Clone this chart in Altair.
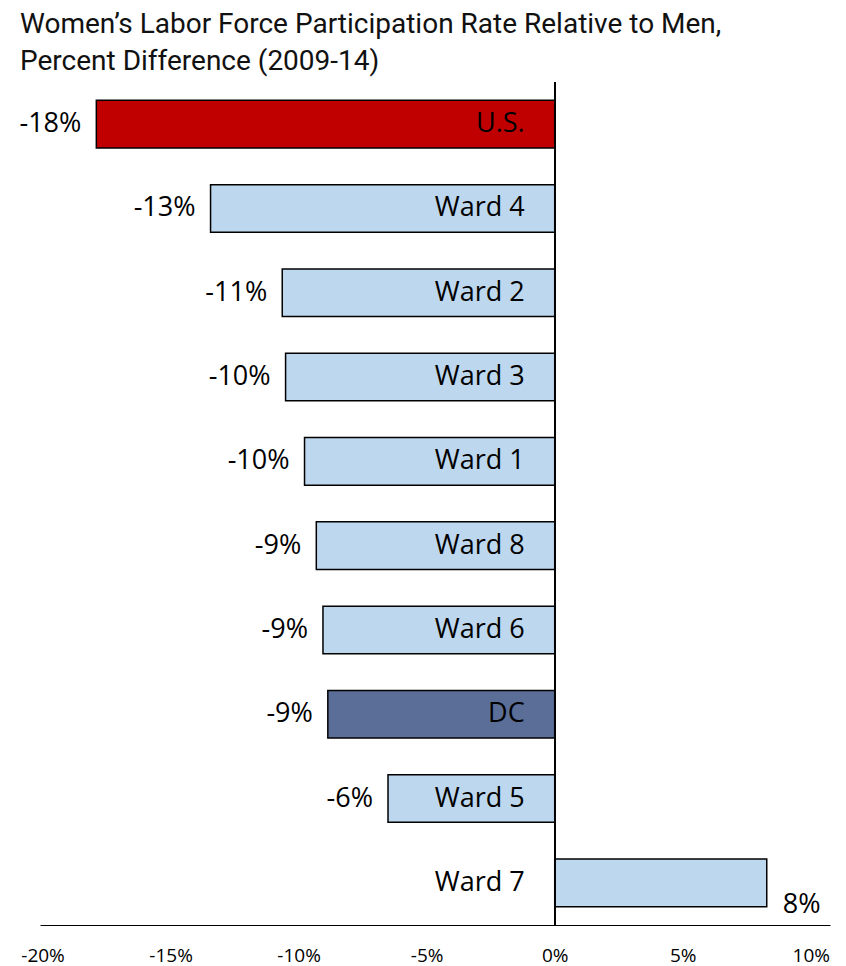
import altair as alt
import pandas as pd

categories = ["U.S.", "Ward 4", "Ward 2", "Ward 3", "Ward 1", "Ward 8", "Ward 6", "DC", "Ward 5", "Ward 7"]
values = [-17.9, -13.44, -10.64, -10.51, -9.77, -9.31, -9.05, -8.86, -6.51, 8.28]
value_labels = ["-18%", "-13%", "-11%", "-10%", "-10%", "-9%", "-9%", "-9%", "-6%", "8%"]
groups = ["US", "Ward", "Ward", "Ward", "Ward", "Ward", "Ward", "DC", "Ward", "Ward"]
tick_values = [-20, -15, -10, -5, 0, 5, 10]

group_domain = ["US", "Ward", "DC"]
group_colors = ["#C00000", "#BDD7EE", "#5B6E97"]

df = pd.DataFrame({
    "category": categories,
    "value": values,
    "label": value_labels,
    "group": groups,
    "zero": [0] * len(categories),
})

FONT = "Open Sans"
TITLE_FONT = "Roboto"

x_scale = alt.Scale(domain=[-20.1, 10.75], nice=False, zero=False)
y_enc = alt.Y("category:N", sort=categories, axis=None,
              scale=alt.Scale(paddingInner=0.435, paddingOuter=0.2175))

base = alt.Chart(df)

bars = base.mark_bar(stroke="#000000", strokeWidth=1.5).encode(
    x=alt.X("value:Q", scale=x_scale,
            axis=alt.Axis(values=tick_values, labelExpr="datum.value + '%'",
                          grid=False, ticks=False, domain=True, domainColor="#000000",
                          domainWidth=1.2, labelFont=FONT, labelFontSize=19,
                          labelColor="#000000", labelPadding=21, title=None,
                          labelFlush=False)),
    x2="zero:Q",
    y=y_enc,
    color=alt.Color("group:N", scale=alt.Scale(domain=group_domain, range=group_colors), legend=None),
)

zero_rule = base.mark_rule(color="#000000", strokeWidth=1.2).encode(
    x=alt.X(datum=0, scale=x_scale)
)

cat_text = base.mark_text(align="right", baseline="middle", dx=-30, font=FONT,
                          fontSize=27, color="#000000").encode(
    x="zero:Q", y=y_enc, text="category:N"
)

neg_text = base.transform_filter("datum.value < 0").mark_text(
    align="right", baseline="middle", dx=-15, font=FONT, fontSize=27, color="#000000"
).encode(x="value:Q", y=y_enc, text="label:N")

pos_text = base.transform_filter("datum.value > 0").mark_text(
    align="left", baseline="middle", dx=16, dy=22, font=FONT, fontSize=27, color="#000000"
).encode(x="value:Q", y=y_enc, text="label:N")

chart = alt.layer(bars, zero_rule, cat_text, neg_text, pos_text).properties(
    width=790,
    height=843,
    autosize=alt.AutoSizeParams(type="none"),
    padding={"left": 32, "top": 74, "right": 8, "bottom": 42},
    title=alt.TitleParams(
        text=["Women\u2019s Labor Force Participation Rate Relative to Men,",
              "Percent Difference (2009-14)"],
        anchor="start", frame="group", dx=-20, font=TITLE_FONT, fontSize=28,
        fontWeight="normal", color="#111111", lineHeight=37, offset=5,
    ),
).configure_view(stroke=None)

chart.save("out.html", embed_options={"renderer": "svg", "actions": False})
